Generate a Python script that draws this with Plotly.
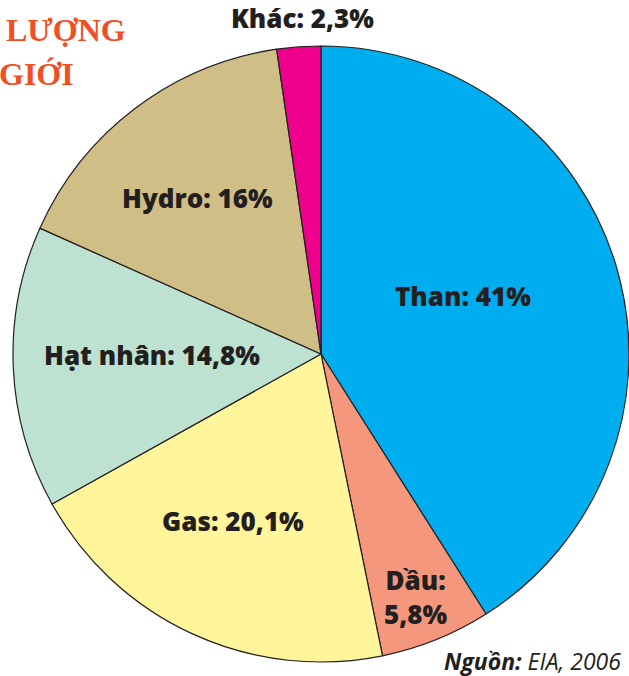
import plotly.graph_objects as go

labels = ["Than", "Dầu", "Gas", "Hạt nhân", "Hydro", "Khác"]
values = [41, 5.8, 20.1, 14.8, 16, 2.3]
colors = ["#00AEEF", "#F4977C", "#FFF59B", "#BDE2D1", "#D0BE87", "#EC008C"]

# label anchor positions in pixels (x, y from top)
label_pos = [(463, 296), (416, 597), (233, 521), (152, 355), (197, 198), (302, 18)]
breaks = [False, True, False, False, False, False]

W, H = 629, 676

fig = go.Figure(go.Pie(
    labels=labels,
    values=values,
    sort=False,
    direction="clockwise",
    rotation=0,
    marker=dict(colors=colors, line=dict(color="#231F20", width=1.2)),
    textinfo="none",
    hoverinfo="skip",
    showlegend=False,
    domain=dict(x=[13 / W, 629 / W], y=[13 / H, 631 / H]),
))

def fmt(v):
    s = ("%g" % v).replace(".", ",")
    return s + "%"

annotations = []
for lab, v, (px, py), br in zip(labels, values, label_pos, breaks):
    sep = "<br>" if br else " "
    annotations.append(dict(
        x=px / W, y=1 - py / H, xref="paper", yref="paper",
        text=f"{lab}:{sep}{fmt(v)}",
        showarrow=False, xanchor="center", yanchor="middle",
        font=dict(family="Open Sans", size=26, color="#231F20", weight=800),
    ))

annotations += [
    dict(x=128 / W, y=1 - 30 / H, xref="paper", yref="paper", text="<b>LƯỢNG</b>",
         showarrow=False, xanchor="right", yanchor="middle",
         font=dict(family="Liberation Serif", size=32, color="#F04E23")),
    dict(x=76 / W, y=1 - 74 / H, xref="paper", yref="paper", text="<b>GIỚI</b>",
         showarrow=False, xanchor="right", yanchor="middle",
         font=dict(family="Liberation Serif", size=32, color="#F04E23")),
    dict(x=623 / W, y=1 - 661 / H, xref="paper", yref="paper",
         text="<b><i>Nguồn:</i></b><i> EIA, 2006</i>",
         showarrow=False, xanchor="right", yanchor="middle",
         font=dict(family="Open Sans", size=23, color="#231F20")),
]

fig.update_layout(
    width=W, height=H,
    margin=dict(l=0, r=0, t=0, b=0),
    paper_bgcolor="white",
    plot_bgcolor="white",
    annotations=annotations,
)

fig.write_html(
    "out.html",
    config={"displayModeBar": False},
    post_script="document.body.style.margin='0';document.body.style.overflow='hidden';",
)
